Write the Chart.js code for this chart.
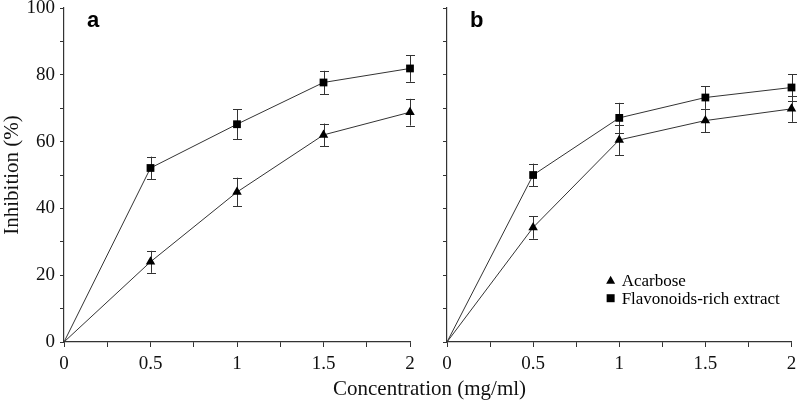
<!DOCTYPE html>
<html>
<head>
<meta charset="utf-8">
<script src="https://cdn.jsdelivr.net/npm/chart.js@4/dist/chart.umd.min.js"></script>
<style>
  body { margin: 0; background: #fff; }
  #wrap { position: relative; width: 797px; height: 402px; }
  canvas { position: absolute; left: 0; top: 0; }
  #xtitle {
    position: absolute; left: 333px; width: 192px; top: 376px;
    text-align: center; font: 21px "Liberation Serif", "Times New Roman", serif;
    color: #111; white-space: nowrap;
  }
</style>
</head>
<body>
<div id="wrap">
  <canvas id="panelA" width="797" height="402"></canvas>
  <canvas id="panelB" width="797" height="402"></canvas>
  <div id="xtitle">Concentration (mg/ml)</div>
</div>
<script>
// concentraciones (mg/ml)
const concentraciones = [0, 0.5, 1, 1.5, 2];

// panel a
const acarbosaA = [0, 24.0, 44.9, 62.0, 68.8];
const acarbosaAErr = [0, 3.3, 4.3, 3.4, 4.0];
const extractoA = [0, 52.1, 65.2, 77.7, 81.9];
const extractoAErr = [0, 3.4, 4.5, 3.5, 4.0];

// panel b
const acarbosaB = [0, 34.3, 60.5, 66.3, 69.8];
const acarbosaBErr = [0, 3.4, 4.5, 3.5, 3.9];
const extractoB = [0, 50.0, 67.1, 73.2, 76.2];
const extractoBErr = [0, 3.4, 4.5, 3.4, 3.9];

const nombres = ["Acarbose", "Flavonoids-rich extract"];
const etiquetasPanel = ["a", "b"];

const serif = '"Liberation Serif", "Times New Roman", serif';
const radios = [0, 5.5, 5.5, 5.5, 5.5];

// barras de error, dibujadas con las escalas del grafico
const barrasError = {
    id: 'barrasError',
    beforeDatasetsDraw(chart) {
        const ctx = chart.ctx;
        const x = chart.scales.x, y = chart.scales.y;
        ctx.save();
        ctx.strokeStyle = '#333';
        ctx.lineWidth = 1;
        chart.data.datasets.forEach(ds => {
            ds.data.forEach((p, i) => {
                const e = ds.errores[i];
                if (!e) return;
                const px = Math.round(x.getPixelForValue(p.x)) + 0.5;
                const y1 = y.getPixelForValue(p.y + e);
                const y2 = y.getPixelForValue(p.y - e);
                ctx.beginPath();
                ctx.moveTo(px, y1); ctx.lineTo(px, y2);
                ctx.moveTo(px - 4.5, Math.round(y1) + 0.5); ctx.lineTo(px + 4.5, Math.round(y1) + 0.5);
                ctx.moveTo(px - 4.5, Math.round(y2) + 0.5); ctx.lineTo(px + 4.5, Math.round(y2) + 0.5);
                ctx.stroke();
            });
        });
        ctx.restore();
    }
};

// letra del panel y leyenda
const extras = {
    id: 'extras',
    afterDraw(chart, args, opts) {
        const ctx = chart.ctx;
        const area = chart.chartArea;
        ctx.save();
        ctx.fillStyle = '#000';
        ctx.font = 'bold 22px "Liberation Sans", Arial, sans-serif';
        ctx.textBaseline = 'alphabetic';
        ctx.fillText(opts.letra, area.left + 23, area.top + 18.5);

        if (opts.leyenda) {
            const lx = area.left + (area.right - area.left) * opts.leyenda.x;
            let ly = area.top + (area.bottom - area.top) * opts.leyenda.y;
            ctx.font = '17px ' + serif;
            ctx.textBaseline = 'middle';
            chart.data.datasets.forEach(ds => {
                ctx.fillStyle = '#000';
                ctx.beginPath();
                if (ds.pointStyle === 'triangle') {
                    ctx.moveTo(lx, ly - 4.5);
                    ctx.lineTo(lx + 4.5, ly + 3.5);
                    ctx.lineTo(lx - 4.5, ly + 3.5);
                    ctx.closePath();
                } else {
                    ctx.rect(lx - 4, ly - 4, 8, 8);
                }
                ctx.fill();
                ctx.fillText(ds.label, lx + 11, ly + 1);
                ly += opts.leyenda.gap;
            });
        }
        ctx.restore();
    }
};

function puntos(valores) {
    return concentraciones.map((c, i) => ({ x: c, y: valores[i] }));
}

function serie(nombre, valores, errores, estilo) {
    return {
        label: nombre,
        data: puntos(valores),
        errores: errores,
        pointStyle: estilo,
        pointRadius: radios,
        pointHoverRadius: radios,
        backgroundColor: '#000',
        pointBorderColor: '#000',
        pointBorderWidth: 0,
        borderColor: '#333',
        borderWidth: 1,
        tension: 0,
        clip: false
    };
}

function crearPanel(idCanvas, acarbosa, acarbosaErr, extracto, extractoErr, conf) {
    const ctx = document.getElementById(idCanvas).getContext('2d');
    return new Chart(ctx, {
        type: 'line',
        data: {
            datasets: [
                serie(nombres[0], acarbosa, acarbosaErr, 'triangle'),
                serie(nombres[1], extracto, extractoErr, 'rect')
            ]
        },
        options: {
            responsive: false,
            animation: false,
            devicePixelRatio: 1,
            events: [],
            layout: { padding: conf.padding },
            plugins: {
                legend: { display: false },
                tooltip: { enabled: false },
                extras: { letra: conf.letra, leyenda: conf.leyenda }
            },
            scales: {
                x: {
                    type: 'linear',
                    min: 0,
                    max: 2,
                    grid: { drawOnChartArea: false, color: '#333', tickLength: 5, tickWidth: 1 },
                    border: { color: '#333', width: 1.2 },
                    ticks: {
                        stepSize: 0.25,
                        autoSkip: false,
                        maxRotation: 0,
                        padding: 6,
                        color: '#111',
                        font: { family: serif, size: 19 },
                        callback: v => (v % 0.5 === 0 ? String(v) : '')
                    },
                    afterFit(s) { s.height = 60; s.paddingLeft = 0; s.paddingRight = 0; }
                },
                y: {
                    min: 0,
                    max: 100,
                    grid: { drawOnChartArea: false, color: '#333', tickLength: 4, tickWidth: 1 },
                    border: { color: '#333', width: 1.2 },
                    title: {
                        display: conf.tituloY,
                        text: 'Inhibition (%)',
                        color: '#111',
                        padding: 0,
                        font: { family: serif, size: 21 }
                    },
                    ticks: {
                        stepSize: 10,
                        autoSkip: false,
                        padding: 5,
                        color: '#111',
                        font: { family: serif, size: 19 },
                        callback: v => (conf.etiquetasY && v % 20 === 0 ? String(v) : '')
                    },
                    afterFit(s) { s.width = conf.anchoY; s.paddingTop = 0; s.paddingBottom = 0; }
                }
            }
        },
        plugins: [barrasError, extras]
    });
}

crearPanel('panelA', acarbosaA, acarbosaAErr, extractoA, extractoAErr, {
    padding: { left: 0, top: 8, right: 387, bottom: 0 },
    anchoY: 64,
    etiquetasY: true,
    tituloY: true,
    letra: etiquetasPanel[0],
    leyenda: null
});

crearPanel('panelB', acarbosaB, acarbosaBErr, extractoB, extractoBErr, {
    padding: { left: 437, top: 8, right: 5, bottom: 0 },
    anchoY: 10,
    etiquetasY: false,
    tituloY: false,
    letra: etiquetasPanel[1],
    leyenda: { x: 0.475, y: 0.815, gap: 18 }
});
</script>
</body>
</html>
